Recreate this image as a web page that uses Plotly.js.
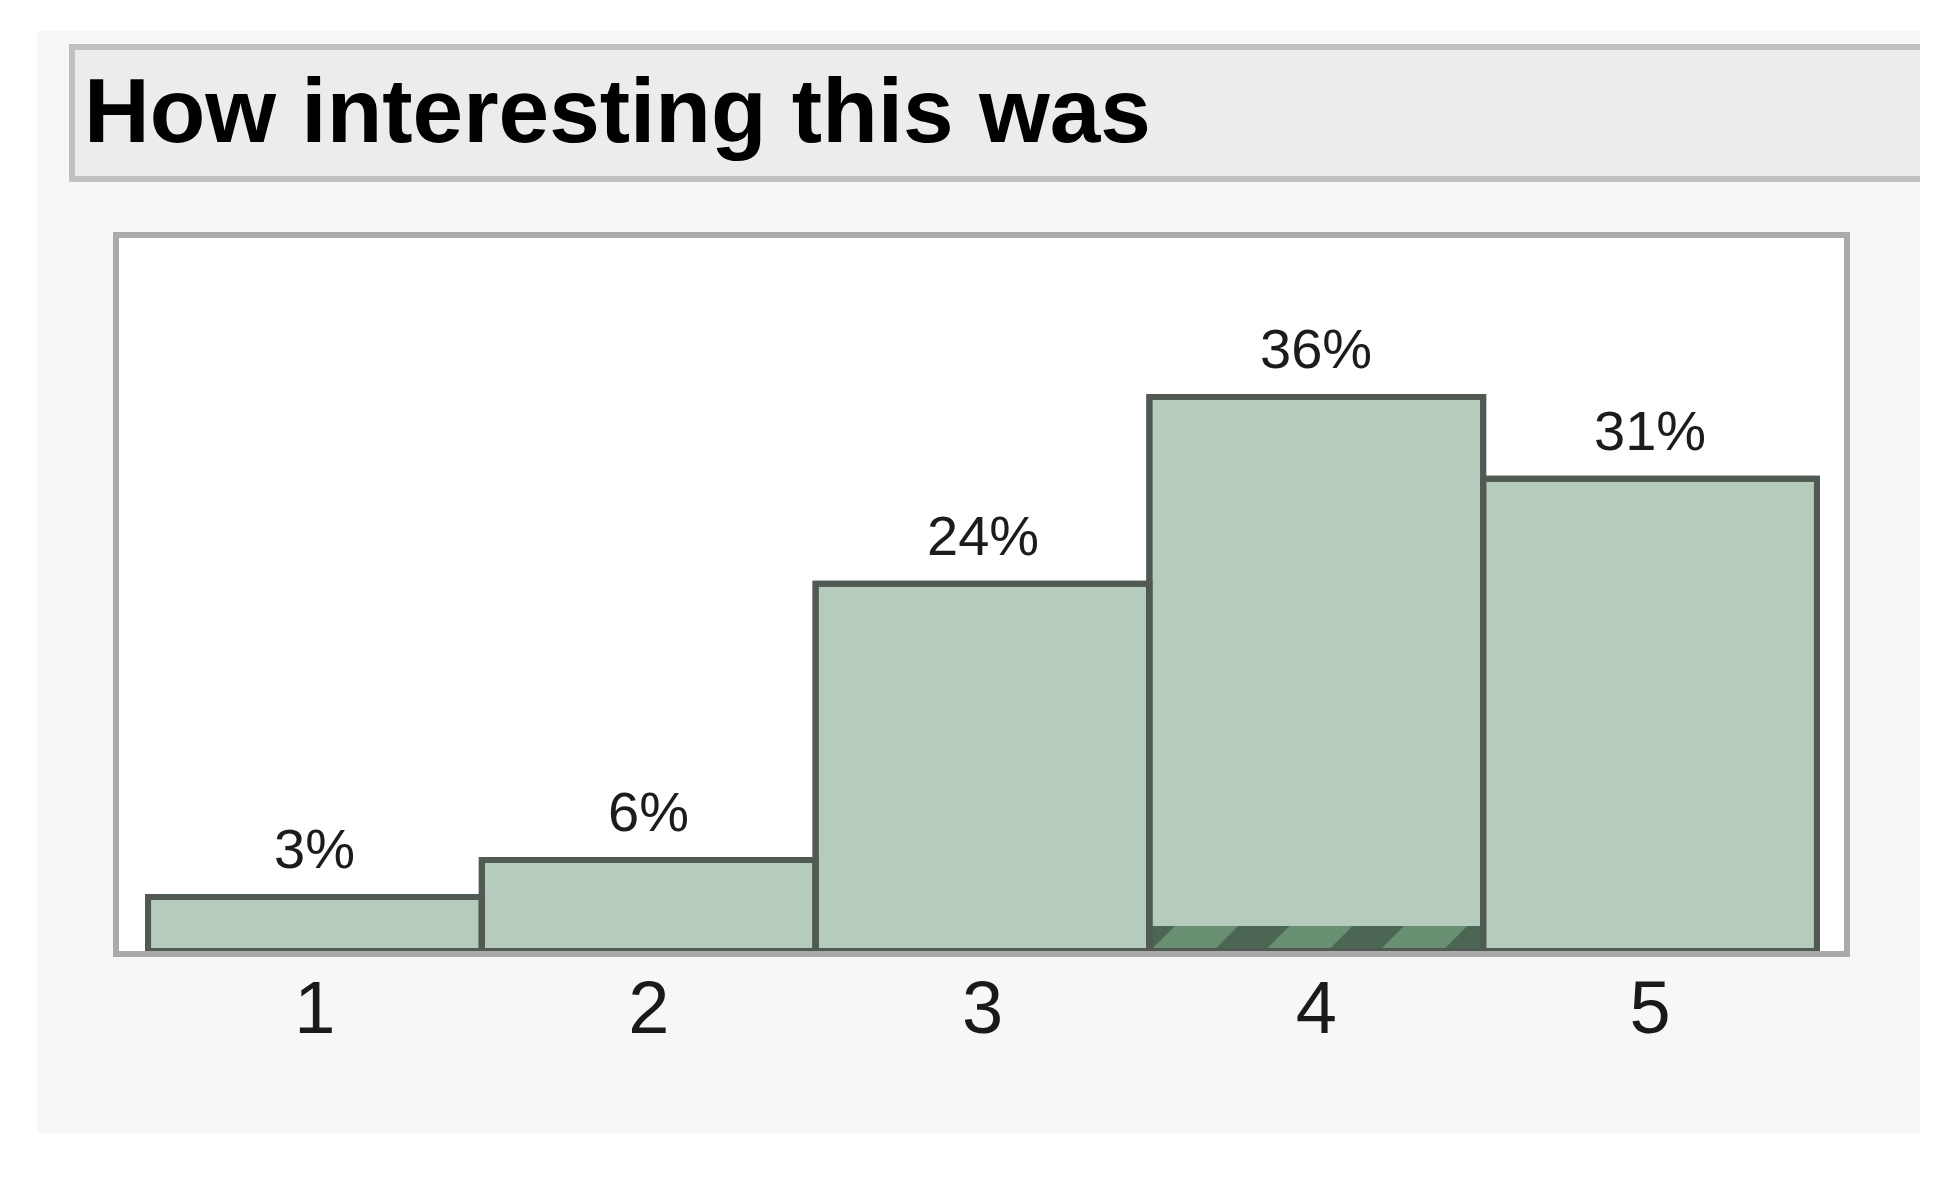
<!DOCTYPE html>
<html>
<head>
<meta charset="utf-8">
<script src="https://cdn.plot.ly/plotly-3.0.1.min.js"></script>
<style>
  html, body { margin: 0; padding: 0; background: #ffffff; }
  #chart { width: 1957px; height: 1177px; }
</style>
</head>
<body>
<div id="chart"></div>
<script>
// ---- data ----
const titleText = "How interesting this was";
const categories = [1, 2, 3, 4, 5];
const tickLabels = ["1", "2", "3", "4", "5"];
const percents = [3.5, 5.9, 23.8, 35.9, 30.6];
const percentLabels = ["3%", "6%", "24%", "36%", "31%"];
const highlighted = [0, 0, 0, 1.65, 0];

// ---- layout geometry (pixels) ----
const W = 1957, H = 1177;
const M = { l: 119, r: 113, t: 238, b: 226 };
const PW = W - M.l - M.r, PH = H - M.t - M.b;
const X = px => (px - M.l) / PW;
const Y = py => (H - M.b - py) / PH;

const outline = { color: '#505a52', width: 6 };

const traces = [
  {
    type: 'bar', x: categories, y: percents,
    marker: { color: '#b5cbbb', line: outline },
    hoverinfo: 'skip'
  },
  {
    type: 'bar', x: categories, y: highlighted,
    marker: {
      color: '#6a9074',
      line: { width: 0 },
      pattern: { shape: '/', size: 81, solidity: 0.45, fgcolor: '#4b6753', bgcolor: '#6a9074', fillmode: 'replace' }
    },
    hoverinfo: 'skip'
  },
  {
    type: 'bar', x: categories, y: percents,
    marker: { color: 'rgba(0,0,0,0)', line: outline },
    hoverinfo: 'skip'
  }
];

const annotations = categories.map((c, i) => ({
  x: c, y: percents[i], xref: 'x', yref: 'y',
  text: percentLabels[i], showarrow: false,
  xanchor: 'center', yanchor: 'bottom', yshift: 15,
  font: { family: 'Liberation Sans, Arial, sans-serif', size: 56, color: '#1c1c1c' }
}));
annotations.push({
  x: X(82), y: Y(58), xref: 'paper', yref: 'paper',
  xanchor: 'left', yanchor: 'top', showarrow: false,
  text: '<b>' + titleText + '</b>',
  font: { family: 'Liberation Sans, Arial, sans-serif', size: 91, color: '#000000' }
});

const rect = (x0, y0, x1, y1, fill) => ({
  type: 'rect', xref: 'paper', yref: 'paper', layer: 'below',
  x0: X(x0), x1: X(x1), y0: Y(y1), y1: Y(y0),
  fillcolor: fill, line: { width: 0 }
});

const shapes = [
  rect(37, 31, 1920, 1133, '#f7f7f7'),
  rect(69, 44, 1920, 182, '#c0c0c0'),
  rect(75, 50, 1920, 176, '#ececec'),
  rect(119, 238, 1844, 951, '#ffffff')
];

const layout = {
  width: W, height: H,
  margin: M,
  paper_bgcolor: '#ffffff',
  plot_bgcolor: '#ffffff',
  showlegend: false,
  barmode: 'overlay',
  bargap: 0,
  xaxis: {
    range: [0.413, 5.581],
    tickmode: 'array', tickvals: categories, ticktext: tickLabels,
    ticks: '', showgrid: false, zeroline: false,
    showline: true, mirror: true, linewidth: 6, linecolor: '#aaaaaa',
    ticklabelstandoff: -13,
    tickfont: { family: 'Liberation Sans, Arial, sans-serif', size: 74, color: '#1a1a1a' },
    fixedrange: true
  },
  yaxis: {
    range: [0, 46.2],
    showticklabels: false, ticks: '', showgrid: false, zeroline: false,
    showline: true, mirror: true, linewidth: 6, linecolor: '#aaaaaa',
    fixedrange: true
  },
  shapes: shapes,
  annotations: annotations
};

Plotly.newPlot('chart', traces, layout, { displayModeBar: false, staticPlot: true });
</script>
</body>
</html>
